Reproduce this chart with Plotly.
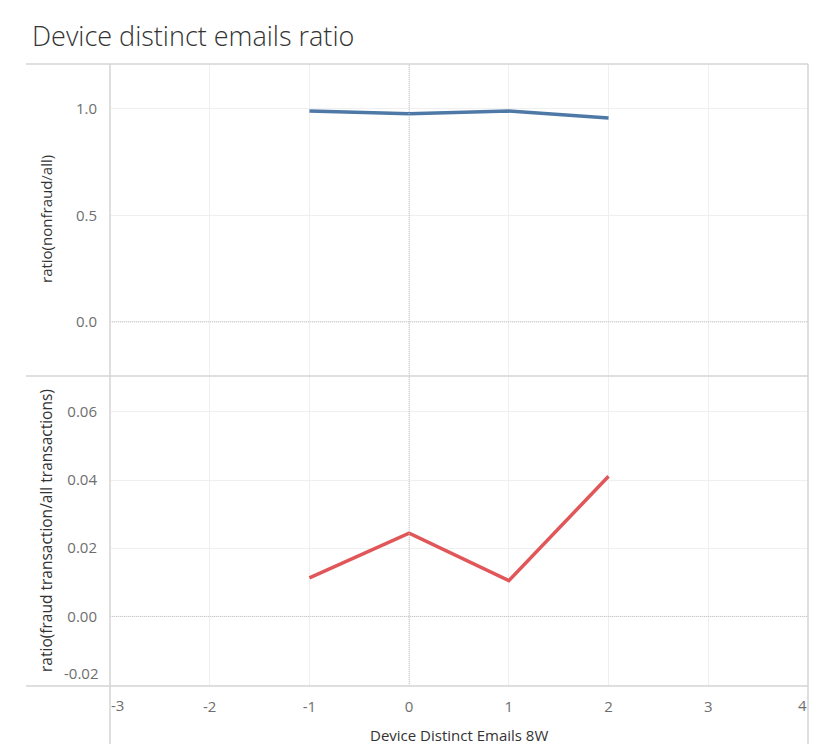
import plotly.graph_objects as go
from plotly.subplots import make_subplots

# Device Distinct Emails 8W buckets
emails_8w = [-1, 0, 1, 2]
nonfraud_ratio = [0.990, 0.977, 0.990, 0.958]
fraud_ratio = [0.0113, 0.0244, 0.0105, 0.0411]

x_ticks = [-3, -2, -1, 0, 1, 2, 3, 4]
x_labels = ["-3", "-2", "-1", "0", "1", "2", "3", "4"]
top_ticks = [0.0, 0.5, 1.0]
top_labels = ["0.0", "0.5", "1.0"]
bottom_ticks = [-0.02, 0.00, 0.02, 0.04, 0.06]
bottom_labels = ["-0.02", "0.00", "0.02", "0.04", "0.06"]

BLUE = "#4e79a7"
RED = "#e15759"
GRID = "#efefef"
BORDER = "#d4d4d4"
FONT = "Open Sans, Noto Sans, sans-serif"
TICK_FONT = dict(family=FONT, size=15, color="#6e6e6e")
TITLE_FONT = dict(family=FONT, size=15, color="#333333")

# page body has an 8px margin, so the figure is kept 16px smaller than the window
W, H = 807, 736
L, R, T, B = 102, 7, 56, 58
PW, PH = W - L - R, H - T - B

fig = make_subplots(rows=2, cols=1, shared_xaxes=True, vertical_spacing=0,
                    row_heights=[0.5016, 0.4984])

fig.add_trace(go.Scatter(x=emails_8w, y=nonfraud_ratio, mode="lines",
                         line=dict(color=BLUE, width=3.5), showlegend=False),
              row=1, col=1)
fig.add_trace(go.Scatter(x=emails_8w, y=fraud_ratio, mode="lines",
                         line=dict(color=RED, width=3.5), showlegend=False),
              row=2, col=1)

xaxis_common = dict(range=[-3, 4], showgrid=True, gridcolor=GRID,
                    zeroline=False, showline=False, tickfont=TICK_FONT)
fig.update_xaxes(**xaxis_common, tickvals=x_ticks, row=1, col=1)
fig.update_xaxes(**xaxis_common, row=2, col=1,
                 tickvals=x_ticks[1:-1], ticktext=x_labels[1:-1],
                 ticks="outside", ticklen=7, tickcolor="rgba(0,0,0,0)")
# edge labels nudged inside the pane, Tableau style
for xv, lab, shift in [(x_ticks[0], x_labels[0], 7), (x_ticks[-1], x_labels[-1], -6)]:
    fig.add_annotation(x=xv, y=0, xref="x2", yref="paper", text=lab, showarrow=False,
                       xshift=shift, yshift=-19, yanchor="middle", font=TICK_FONT)

fig.update_yaxes(range=[-0.254, 1.211], tickvals=top_ticks, ticktext=top_labels,
                 showgrid=True, gridcolor=GRID, zeroline=False, showline=False,
                 tickfont=TICK_FONT, ticks="outside", ticklen=9, tickcolor="rgba(0,0,0,0)",
                 row=1, col=1)
fig.update_yaxes(range=[-0.0204, 0.0705], tickvals=bottom_ticks[1:], ticktext=bottom_labels[1:],
                 showgrid=True, gridcolor=GRID, zeroline=False, showline=False,
                 tickfont=TICK_FONT, ticks="outside", ticklen=9, tickcolor="rgba(0,0,0,0)",
                 row=2, col=1)
fig.add_annotation(x=0, y=bottom_ticks[0], xref="paper", yref="y2", text=bottom_labels[0],
                   showarrow=False, xanchor="right", yanchor="middle", xshift=-9, yshift=12,
                   font=TICK_FONT)

# axis titles
fig.add_annotation(x=-64 / PW, y=0.7508, xref="paper", yref="paper", text="ratio(nonfraud/all)",
                   textangle=-90, showarrow=False, xanchor="center", yanchor="middle",
                   font=TITLE_FONT)
fig.add_annotation(x=-64 / PW, y=0.2492, xref="paper", yref="paper",
                   text="ratio(fraud transaction/all transactions)",
                   textangle=-90, showarrow=False, xanchor="center", yanchor="middle",
                   font=dict(family=FONT, size=15.5, color="#333333"))
fig.add_annotation(x=0.5, y=0, xref="paper", yref="paper", text="Device Distinct Emails 8W",
                   showarrow=False, xanchor="center", yanchor="middle", yshift=-49,
                   font=TITLE_FONT)

# dotted zero reference lines
for yref in ["y", "y2"]:
    fig.add_shape(type="line", xref="x domain", yref=yref, x0=0, x1=1, y0=0, y1=0,
                  line=dict(color="#c4c4c4", width=1, dash="1px,1px"))
fig.add_shape(type="line", xref="x", yref="paper", x0=0, x1=0, y0=0, y1=1,
              line=dict(color="#c4c4c4", width=1, dash="1px,1px"))

# pane borders
for yp in [0, 0.4984, 1]:
    fig.add_shape(type="line", xref="paper", yref="paper", x0=-84 / PW, x1=1, y0=yp, y1=yp,
                  line=dict(color=BORDER, width=1.5))
for xp in [0, 1]:
    fig.add_shape(type="line", xref="paper", yref="paper", x0=xp, x1=xp, y0=-B / PH, y1=1,
                  line=dict(color=BORDER, width=1.5))

fig.update_layout(
    width=W, height=H,
    margin=dict(l=L, r=R, t=T, b=B),
    paper_bgcolor="white", plot_bgcolor="white",
    title=dict(text="Device distinct emails ratio", x=24 / W, xanchor="left",
               y=1 - 29 / H, yanchor="middle",
               font=dict(family=FONT, size=27, color="#333333", weight=300)),
)

fig.write_html("out.html")
